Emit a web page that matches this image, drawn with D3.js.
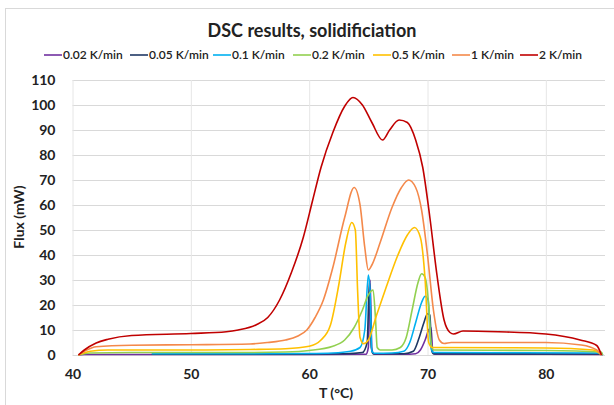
<!DOCTYPE html>
<html>
<head>
<meta charset="utf-8">
<script src="https://cdn.jsdelivr.net/npm/d3@7"></script>
<style>
  body { margin: 0; background: #fff; }
  svg { display: block; font-family: Lato, 'Open Sans', sans-serif; }
</style>
</head>
<body>
<div id="chart"></div>
<script>
const seriesNames = ['0.02 K/min', '0.05 K/min', '0.1 K/min', '0.2 K/min', '0.5 K/min', '1 K/min', '2 K/min']
const seriesColors = ['#7030A0', '#1F3864', '#00B0F0', '#92D050', '#FFC000', '#F4894B', '#C00000']
const xTicks = [40, 50, 60, 70, 80]
const yTicks = [0, 10, 20, 30, 40, 50, 60, 70, 80, 90, 100, 110]

// [T (°C), flux (mW)]
const rate002 = [[40.5,0],[41,0.2],[45,0.2],[50,0.2],[55,0.2],[60,0.2],[64.8,0.3],[65.0,3],[65.15,30],[65.3,2],[65.5,0.3],[68,0.3],[69,0.5],[69.4,2],[69.8,6],[70.1,10],[70.3,11],[70.45,1],[70.6,0.3],[80,0.3],[84.7,0.2],[84.8,0]]
const rate005 = [[46.7,0.3],[50,0.3],[55,0.3],[60,0.4],[63,0.5],[64.5,1],[64.9,5],[65.1,30],[65.25,3],[65.4,0.5],[68,0.5],[68.8,1.5],[69.3,7],[69.7,13],[70.0,16.5],[70.2,16],[70.35,2],[70.5,0.5],[84.7,0.4],[84.8,0]]
const rate01 = [[46.7,0.5],[55,0.5],[60,0.6],[62,0.8],[63.5,1.5],[64.3,3],[64.7,10],[65.0,32],[65.15,25],[65.3,1.5],[65.5,0.7],[67,0.8],[68,1.5],[68.5,5],[69,13],[69.5,21],[69.8,23.5],[70.05,22],[70.3,3],[70.5,1],[84.7,0.8],[84.8,0]]
const rate02 = [[40.5,0],[41.5,0.8],[45,1],[55,1],[58,1.2],[60,1.8],[62,3.5],[63,6],[63.8,11],[64.5,18],[65.0,24],[65.4,26],[65.6,15],[65.75,3],[66,2],[67,2],[67.7,3],[68.2,7],[68.7,18],[69.2,29],[69.5,32.5],[69.8,31],[70.1,20],[70.3,5],[70.5,2],[80,1.8],[84.7,1.2],[84.8,0]]
const rate05 = [[40.5,0],[41.5,1.5],[43,2],[50,2],[55,2.2],[58,2.5],[60,3.5],[61,6],[61.8,12],[62.5,28],[63.1,45],[63.6,53],[63.9,50],[64.1,25],[64.3,7],[64.6,4.5],[65,6],[65.7,16],[66.5,27],[67.5,40],[68.3,48],[68.9,51],[69.4,47],[69.8,30],[70.1,5],[70.4,3],[80,2.8],[84,2],[84.7,0]]
const rate1 = [[40.5,0],[41.2,2],[42,3.3],[45,3.9],[50,4.1],[55,4.4],[56.5,5],[58,6],[59,7.5],[59.8,10],[60.5,15],[61.2,22],[62,35],[63,55],[63.8,67],[64.3,60],[64.7,43],[65.0,34],[65.3,36],[66,45],[67,59],[67.8,67],[68.4,70],[69,67],[69.5,58],[70,40],[70.5,18],[71,6],[71.4,4.6],[72,5],[80,5],[83,4],[84.3,2],[84.7,0]]
const rate2 = [[40.5,0],[41,2],[42,4.8],[43,6.3],[45,7.8],[50,8.6],[53,9.3],[54,10],[55.5,12],[56.5,15],[57.5,22],[58.5,33],[59.5,47],[60.3,62],[61,75],[62,89],[63,99.5],[63.7,103],[64.5,100],[65.3,93],[66.2,86],[66.8,90],[67.6,94],[68.3,93],[69,86],[69.6,75],[70.2,55],[70.8,32],[71.4,14],[71.9,9],[72.2,8.4],[73,9.6],[76,9.3],[80,8.4],[82.9,6],[84.3,3.8],[84.7,0]]

const allSeries = [rate002, rate005, rate01, rate02, rate05, rate1, rate2]

const width = 614
const height = 405
const plotLeft = 72.5, plotRight = 605, plotTop = 80, plotBottom = 355

const svg = d3.select('#chart')
  .append('svg')
  .attr('width', width)
  .attr('height', height)

// chart frame
svg.append('rect')
  .attr('x', 5.5).attr('y', 8.5)
  .attr('width', 700).attr('height', 500)
  .attr('fill', 'none')
  .attr('stroke', '#d9d9d9')

const x = d3.scaleLinear().domain([40, 85]).range([plotLeft, plotRight])
const y = d3.scaleLinear().domain([0, 110]).range([plotBottom, plotTop])

// gridlines
svg.append('g')
  .attr('transform', `translate(${plotLeft},0)`)
  .call(d3.axisLeft(y).tickValues(yTicks).tickSize(-(plotRight - plotLeft)).tickFormat(''))
  .call(g => g.select('.domain').remove())
  .selectAll('line')
  .attr('stroke', '#d9d9d9')

svg.append('g')
  .attr('transform', `translate(0,${plotBottom})`)
  .call(d3.axisBottom(x).tickValues(xTicks).tickSize(-(plotBottom - plotTop)).tickFormat(''))
  .call(g => g.select('.domain').remove())
  .selectAll('line')
  .attr('stroke', '#e6e6e6')

// tick labels
svg.append('g')
  .attr('transform', `translate(${plotLeft - 17},0)`)
  .call(d3.axisLeft(y).tickValues(yTicks).tickSize(0).tickPadding(0))
  .call(g => g.select('.domain').remove())
  .selectAll('text')
  .attr('font-size', 14)
  .attr('font-weight', 'bold')
  .attr('font-family', 'Lato, sans-serif')
  .attr('fill', '#222')

svg.append('g')
  .attr('transform', `translate(0,${plotBottom + 14})`)
  .call(d3.axisBottom(x).tickValues(xTicks).tickSize(0).tickPadding(0))
  .call(g => g.select('.domain').remove())
  .selectAll('text')
  .attr('font-size', 14)
  .attr('font-weight', 'bold')
  .attr('font-family', 'Lato, sans-serif')
  .attr('fill', '#222')

// series lines
const line = d3.line()
  .curve(d3.curveMonotoneX)
  .x(d => x(d[0]))
  .y(d => y(d[1]))

svg.append('g')
  .selectAll('path')
  .data(allSeries)
  .enter()
  .append('path')
  .attr('d', d => line(d))
  .attr('fill', 'none')
  .attr('stroke-width', 1.6)
  .attr('stroke', (d, i) => seriesColors[i])

// title
svg.append('text')
  .text('DSC results, solidificiation')
  .attr('x', 312)
  .attr('y', 37)
  .attr('text-anchor', 'middle')
  .attr('font-size', 18)
  .attr('font-weight', 'bold')
  .attr('fill', '#222')

// legend
const legendX = [44, 130, 213, 293, 373, 452, 520]
const legend = svg.append('g')
  .selectAll('g')
  .data(seriesNames)
  .enter()
  .append('g')
  .attr('transform', (d, i) => `translate(${legendX[i]},55)`)

legend.append('line')
  .attr('x1', 0).attr('x2', 18)
  .attr('stroke', (d, i) => seriesColors[i])
  .attr('stroke-width', 1.6)

legend.append('text')
  .text(d => d)
  .attr('x', 19)
  .attr('dy', '0.35em')
  .attr('font-size', 12)
  .attr('font-weight', 600)
  .attr('fill', '#222')

// axis titles
svg.append('text')
  .text('Flux (mW)')
  .attr('transform', 'translate(24,217) rotate(-90)')
  .attr('text-anchor', 'middle')
  .attr('font-size', 14)
  .attr('font-weight', 'bold')
  .attr('fill', '#222')

svg.append('text')
  .text('T (°C)')
  .attr('x', 336)
  .attr('y', 398)
  .attr('text-anchor', 'middle')
  .attr('font-size', 14)
  .attr('font-weight', 'bold')
  .attr('fill', '#222')
</script>
</body>
</html>
